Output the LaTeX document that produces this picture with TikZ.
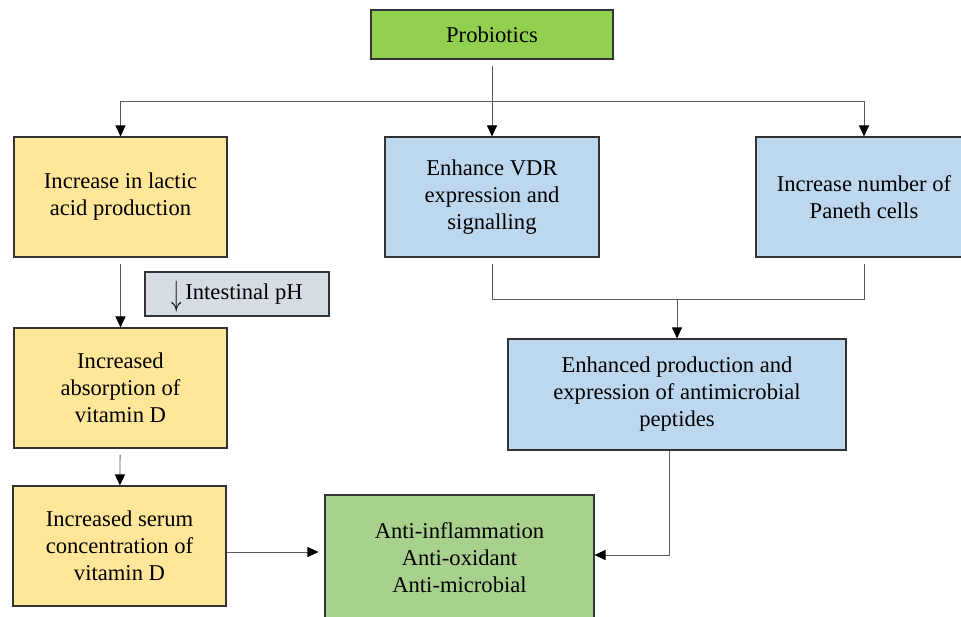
\documentclass[tikz,border=0pt]{standalone}
\usepackage{fontspec}
\setmainfont{Liberation Serif}
\usetikzlibrary{arrows.meta}

\definecolor{probgreen}{RGB}{146,208,80}
\definecolor{boxyellow}{RGB}{255,230,153}
\definecolor{boxblue}{RGB}{189,215,238}
\definecolor{boxgray}{RGB}{214,220,228}
\definecolor{boxgreen}{RGB}{169,209,142}
\definecolor{linegray}{RGB}{90,90,90}

\begin{document}
\begin{tikzpicture}[x=1pt, y=-1pt,
	every node/.style={rectangle, draw=black!80, line width=1.1pt, align=center, inner sep=0pt, font=\fontsize{22.6}{27}\selectfont},
	yellowbox/.style={fill=boxyellow, minimum width=213pt, minimum height=120pt},
	bluebox/.style={fill=boxblue, minimum width=214pt, minimum height=120pt},
	link/.style={draw=linegray, line width=0.9pt},
	arr/.style={link, -{Triangle[length=11pt, width=10pt, fill=black, color=black]}},
	gap/.style={shorten <=6pt}]
					\useasboundingbox (0,0) rectangle (961,616);
					
					\node[fill=probgreen, minimum width=242pt, minimum height=49pt] (probiotics) at (492,34.5){Probiotics};
					
					\node[yellowbox] (lactic) at (120.5,197){Increase in lactic\\acid production};
					\node[bluebox] (vdr) at (492,197){Enhance VDR\\expression and\\signalling};
					\node[bluebox, minimum width=216pt] (paneth) at (864,197){Increase number of\\Paneth cells};
					
					\node[fill=boxgray, minimum width=184pt, minimum height=44pt] (ph) at (237,294){\raisebox{-6pt}[0pt][0pt]{\scalebox{1}[1.7]{$\downarrow$}}\,Intestinal pH};
					
					\node[yellowbox] (absorb) at (120.5,388){Increased\\absorption of\\vitamin D};
					\node[bluebox, minimum width=338pt, minimum height=111pt] (amp) at (677,394.5){Enhanced production and\\expression of antimicrobial\\peptides};
					
					\node[yellowbox] (serum) at (119.5,546){Increased serum\\concentration of\\vitamin D};
					\node[fill=boxgreen, minimum width=269pt, minimum height=125pt] (outcome) at (459.5,557.5){Anti-inflammation\\Anti-oxidant\\Anti-microbial};
					
					\coordinate (split) at (492,101);
					\coordinate (join) at (677,299);
					
					\draw[link, gap] (probiotics) -- (split);
					\draw[arr] (split) -| (lactic.north);
					\draw[arr] (split) -- (vdr.north);
					\draw[arr] (split) -| (paneth.north);
					
					\draw[arr, gap] (lactic) -- (absorb);
					\draw[arr, gap] (absorb) -- (serum);
					
					\draw[link, gap] (vdr.south) |- (join);
					\draw[link, gap] (paneth.south) |- (join);
					\draw[arr] (join) -- (amp.north);
					
					\draw[arr, shorten >=6pt] ([yshift=-6pt]serum.east) -- ([yshift=-6pt]serum.east -| outcome.west);
					\draw[arr] ([xshift=-8pt]amp.south) |- ([yshift=2.5pt]outcome.east);
					\end{tikzpicture}
\end{document}
